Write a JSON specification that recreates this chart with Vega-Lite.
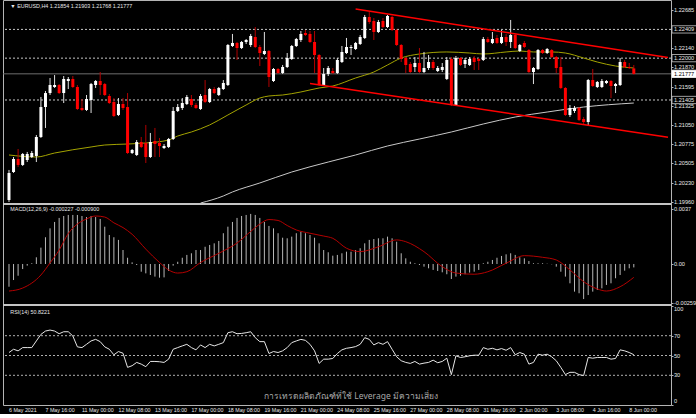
{
"$schema":"https://vega.github.io/schema/vega-lite/v6.json",
"background":"#000000",
"padding":{"left":2,"top":0,"right":0,"bottom":0},
"width":668,"height":405,
"config":{"view":{"stroke":"#b4b4b4","strokeWidth":1},"axis":{"tickColor":"#b4b4b4"}},
"datasets":{
"candles":[
{"i":0,"o":1.19983,"h":1.2041,"l":1.19955,"c":1.20367},
{"i":1,"o":1.20381,"h":1.20594,"l":1.20367,"c":1.20566},
{"i":2,"o":1.20566,"h":1.20708,"l":1.20452,"c":1.20481},
{"i":3,"o":1.20481,"h":1.20651,"l":1.20467,"c":1.20637},
{"i":4,"o":1.20552,"h":1.20666,"l":1.20523,"c":1.20637},
{"i":5,"o":1.20594,"h":1.2068,"l":1.2058,"c":1.20651},
{"i":6,"o":1.20609,"h":1.20907,"l":1.20523,"c":1.20879},
{"i":7,"o":1.20879,"h":1.21448,"l":1.20865,"c":1.21305},
{"i":8,"o":1.21305,"h":1.21533,"l":1.21007,"c":1.21504},
{"i":9,"o":1.21504,"h":1.21718,"l":1.21476,"c":1.21618},
{"i":10,"o":1.2159,"h":1.2176,"l":1.21576,"c":1.21618},
{"i":11,"o":1.21618,"h":1.21632,"l":1.2149,"c":1.21504},
{"i":12,"o":1.21504,"h":1.21746,"l":1.21362,"c":1.21704},
{"i":13,"o":1.21675,"h":1.21732,"l":1.21561,"c":1.21704},
{"i":14,"o":1.21704,"h":1.21746,"l":1.21576,"c":1.2159},
{"i":15,"o":1.2159,"h":1.21618,"l":1.21263,"c":1.21277},
{"i":16,"o":1.21291,"h":1.21419,"l":1.21249,"c":1.21263},
{"i":17,"o":1.21263,"h":1.21476,"l":1.21249,"c":1.21419},
{"i":18,"o":1.21405,"h":1.21647,"l":1.2122,"c":1.21632},
{"i":19,"o":1.21618,"h":1.21689,"l":1.21576,"c":1.21675},
{"i":20,"o":1.21675,"h":1.21803,"l":1.21476,"c":1.21618},
{"i":21,"o":1.21632,"h":1.21647,"l":1.21462,"c":1.21476},
{"i":22,"o":1.21462,"h":1.2149,"l":1.21348,"c":1.21362},
{"i":23,"o":1.21377,"h":1.21433,"l":1.21163,"c":1.21177},
{"i":24,"o":1.21192,"h":1.21433,"l":1.21177,"c":1.21348},
{"i":25,"o":1.21348,"h":1.21433,"l":1.21263,"c":1.21291},
{"i":26,"o":1.21305,"h":1.21504,"l":1.20637,"c":1.20651},
{"i":27,"o":1.20651,"h":1.20708,"l":1.20637,"c":1.20694},
{"i":28,"o":1.20623,"h":1.20836,"l":1.20609,"c":1.20808},
{"i":29,"o":1.20808,"h":1.20879,"l":1.20722,"c":1.20737},
{"i":30,"o":1.20794,"h":1.2105,"l":1.20509,"c":1.20594},
{"i":31,"o":1.20594,"h":1.20936,"l":1.2058,"c":1.20808},
{"i":32,"o":1.20822,"h":1.21007,"l":1.20594,"c":1.20779},
{"i":33,"o":1.20794,"h":1.20865,"l":1.20594,"c":1.20751},
{"i":34,"o":1.20722,"h":1.20779,"l":1.20708,"c":1.20751},
{"i":35,"o":1.20737,"h":1.20865,"l":1.20722,"c":1.2085},
{"i":36,"o":1.2085,"h":1.21305,"l":1.20836,"c":1.21249},
{"i":37,"o":1.21249,"h":1.21348,"l":1.21234,"c":1.21305},
{"i":38,"o":1.21291,"h":1.21433,"l":1.21263,"c":1.21362},
{"i":39,"o":1.21348,"h":1.21476,"l":1.21334,"c":1.21448},
{"i":40,"o":1.21419,"h":1.21476,"l":1.21305,"c":1.21334},
{"i":41,"o":1.21334,"h":1.21362,"l":1.21277,"c":1.21291},
{"i":42,"o":1.21277,"h":1.2149,"l":1.21263,"c":1.21462},
{"i":43,"o":1.21476,"h":1.21689,"l":1.21362,"c":1.21377},
{"i":44,"o":1.21377,"h":1.21576,"l":1.21362,"c":1.21561},
{"i":45,"o":1.21561,"h":1.2159,"l":1.2149,"c":1.21504},
{"i":46,"o":1.21476,"h":1.2159,"l":1.21462,"c":1.21576},
{"i":47,"o":1.21561,"h":1.21689,"l":1.21547,"c":1.21647},
{"i":48,"o":1.21618,"h":1.22201,"l":1.21604,"c":1.22187},
{"i":49,"o":1.22173,"h":1.22344,"l":1.22159,"c":1.22216},
{"i":50,"o":1.22216,"h":1.2223,"l":1.21974,"c":1.22144},
{"i":51,"o":1.22144,"h":1.22244,"l":1.2213,"c":1.2223},
{"i":52,"o":1.2223,"h":1.22272,"l":1.22201,"c":1.22258},
{"i":53,"o":1.22187,"h":1.22344,"l":1.22159,"c":1.22315},
{"i":54,"o":1.22301,"h":1.22443,"l":1.22144,"c":1.22159},
{"i":55,"o":1.22159,"h":1.22187,"l":1.21888,"c":1.22073},
{"i":56,"o":1.22059,"h":1.22372,"l":1.22045,"c":1.22102},
{"i":57,"o":1.22102,"h":1.22116,"l":1.2159,"c":1.21732},
{"i":58,"o":1.21675,"h":1.2186,"l":1.21661,"c":1.21846},
{"i":59,"o":1.21846,"h":1.2186,"l":1.21775,"c":1.21789},
{"i":60,"o":1.21789,"h":1.21903,"l":1.21775,"c":1.21874},
{"i":61,"o":1.21874,"h":1.22073,"l":1.2186,"c":1.22002},
{"i":62,"o":1.21988,"h":1.22187,"l":1.21974,"c":1.22173},
{"i":63,"o":1.22173,"h":1.22287,"l":1.22159,"c":1.22272},
{"i":64,"o":1.22258,"h":1.22386,"l":1.2223,"c":1.22344},
{"i":65,"o":1.22358,"h":1.224,"l":1.22315,"c":1.22329},
{"i":66,"o":1.22344,"h":1.22386,"l":1.22216,"c":1.2223},
{"i":67,"o":1.2223,"h":1.22386,"l":1.21789,"c":1.22045},
{"i":68,"o":1.22045,"h":1.22059,"l":1.21604,"c":1.21618},
{"i":69,"o":1.21618,"h":1.2186,"l":1.21604,"c":1.21775},
{"i":70,"o":1.21775,"h":1.21888,"l":1.21746,"c":1.2186},
{"i":71,"o":1.21817,"h":1.2186,"l":1.21775,"c":1.21789},
{"i":72,"o":1.21789,"h":1.22002,"l":1.21775,"c":1.21974},
{"i":73,"o":1.21945,"h":1.22173,"l":1.21931,"c":1.22088},
{"i":74,"o":1.22073,"h":1.22287,"l":1.22059,"c":1.22159},
{"i":75,"o":1.22144,"h":1.22187,"l":1.22045,"c":1.22159},
{"i":76,"o":1.2213,"h":1.2223,"l":1.22116,"c":1.22216},
{"i":77,"o":1.22201,"h":1.22329,"l":1.22187,"c":1.22301},
{"i":78,"o":1.22287,"h":1.22614,"l":1.22272,"c":1.22585},
{"i":79,"o":1.22585,"h":1.22656,"l":1.22486,"c":1.22514},
{"i":80,"o":1.22528,"h":1.22571,"l":1.22258,"c":1.22372},
{"i":81,"o":1.22372,"h":1.22543,"l":1.22358,"c":1.22514},
{"i":82,"o":1.22528,"h":1.22571,"l":1.22429,"c":1.22443},
{"i":83,"o":1.22443,"h":1.22614,"l":1.22429,"c":1.226},
{"i":84,"o":1.22585,"h":1.226,"l":1.22386,"c":1.224},
{"i":85,"o":1.224,"h":1.22415,"l":1.22173,"c":1.22187},
{"i":86,"o":1.22187,"h":1.22201,"l":1.21945,"c":1.21988},
{"i":87,"o":1.22002,"h":1.22016,"l":1.21789,"c":1.21903},
{"i":88,"o":1.21917,"h":1.21945,"l":1.21789,"c":1.21803},
{"i":89,"o":1.21874,"h":1.22016,"l":1.21803,"c":1.21931},
{"i":90,"o":1.21931,"h":1.22144,"l":1.21789,"c":1.21803},
{"i":91,"o":1.21803,"h":1.22088,"l":1.21789,"c":1.2186},
{"i":92,"o":1.2186,"h":1.22045,"l":1.21832,"c":1.21945},
{"i":93,"o":1.21945,"h":1.21974,"l":1.21832,"c":1.2186},
{"i":94,"o":1.21817,"h":1.21888,"l":1.21803,"c":1.2186},
{"i":95,"o":1.21832,"h":1.21931,"l":1.21803,"c":1.21874},
{"i":96,"o":1.21704,"h":1.22016,"l":1.21689,"c":1.21974},
{"i":97,"o":1.21988,"h":1.22016,"l":1.2132,"c":1.21348},
{"i":98,"o":1.21334,"h":1.22031,"l":1.2132,"c":1.22002},
{"i":99,"o":1.22002,"h":1.22016,"l":1.21888,"c":1.21903},
{"i":100,"o":1.21917,"h":1.22002,"l":1.2186,"c":1.21974},
{"i":101,"o":1.21903,"h":1.22016,"l":1.21888,"c":1.21988},
{"i":102,"o":1.22002,"h":1.22031,"l":1.21832,"c":1.21945},
{"i":103,"o":1.21988,"h":1.22002,"l":1.21832,"c":1.2196},
{"i":104,"o":1.21974,"h":1.22301,"l":1.2196,"c":1.22272},
{"i":105,"o":1.22272,"h":1.22301,"l":1.22216,"c":1.2223},
{"i":106,"o":1.22216,"h":1.22372,"l":1.22201,"c":1.22272},
{"i":107,"o":1.22287,"h":1.22329,"l":1.22201,"c":1.22216},
{"i":108,"o":1.22216,"h":1.224,"l":1.22201,"c":1.22301},
{"i":109,"o":1.22301,"h":1.22344,"l":1.22173,"c":1.2223},
{"i":110,"o":1.2223,"h":1.22543,"l":1.22144,"c":1.22329},
{"i":111,"o":1.22329,"h":1.22344,"l":1.2213,"c":1.22144},
{"i":112,"o":1.22102,"h":1.22201,"l":1.22088,"c":1.22187},
{"i":113,"o":1.22216,"h":1.22244,"l":1.22144,"c":1.22159},
{"i":114,"o":1.22116,"h":1.2213,"l":1.21789,"c":1.21803},
{"i":115,"o":1.21803,"h":1.21874,"l":1.21632,"c":1.2186},
{"i":116,"o":1.21846,"h":1.2213,"l":1.21832,"c":1.22116},
{"i":117,"o":1.22116,"h":1.2213,"l":1.22059,"c":1.22073},
{"i":118,"o":1.22073,"h":1.22144,"l":1.22059,"c":1.2213},
{"i":119,"o":1.22116,"h":1.2213,"l":1.22002,"c":1.22016},
{"i":120,"o":1.22016,"h":1.22031,"l":1.21789,"c":1.2186},
{"i":121,"o":1.21874,"h":1.22016,"l":1.21561,"c":1.21576},
{"i":122,"o":1.21576,"h":1.2159,"l":1.21177,"c":1.21192},
{"i":123,"o":1.21192,"h":1.21334,"l":1.21163,"c":1.21291},
{"i":124,"o":1.21249,"h":1.2132,"l":1.2122,"c":1.21291},
{"i":125,"o":1.21291,"h":1.21305,"l":1.21106,"c":1.21121},
{"i":126,"o":1.21135,"h":1.21163,"l":1.2105,"c":1.21092},
{"i":127,"o":1.21092,"h":1.21704,"l":1.21035,"c":1.21689},
{"i":128,"o":1.21689,"h":1.21846,"l":1.2159,"c":1.21604},
{"i":129,"o":1.2159,"h":1.21675,"l":1.21576,"c":1.21661},
{"i":130,"o":1.2159,"h":1.21704,"l":1.21576,"c":1.21675},
{"i":131,"o":1.21647,"h":1.21689,"l":1.21632,"c":1.21675},
{"i":132,"o":1.21675,"h":1.21689,"l":1.21433,"c":1.21604},
{"i":133,"o":1.21604,"h":1.21647,"l":1.21504,"c":1.21632},
{"i":134,"o":1.21618,"h":1.22002,"l":1.21604,"c":1.21945},
{"i":135,"o":1.21945,"h":1.21974,"l":1.2186,"c":1.21874},
{"i":136,"o":1.21874,"h":1.21931,"l":1.21846,"c":1.2186},
{"i":137,"o":1.21854,"h":1.21903,"l":1.21768,"c":1.21777}
],
"ma50":[
{"i":0,"v":1.20623},{"i":6,"v":1.20594},{"i":10,"v":1.20651},{"i":18,"v":1.20737},{"i":21,"v":1.20765},{"i":26,"v":1.20779},{"i":30,"v":1.20794},{"i":35,"v":1.20836},{"i":37,"v":1.20893},{"i":40,"v":1.2095},{"i":44,"v":1.2105},{"i":48,"v":1.21192},{"i":52,"v":1.21334},{"i":55,"v":1.21433},{"i":57,"v":1.21462},{"i":60,"v":1.21476},{"i":64,"v":1.21519},{"i":68,"v":1.21576},{"i":71,"v":1.21604},{"i":76,"v":1.21718},{"i":80,"v":1.21803},{"i":83,"v":1.21903},{"i":86,"v":1.22002},{"i":90,"v":1.22059},{"i":96,"v":1.22088},{"i":101,"v":1.22073},{"i":104,"v":1.22059},{"i":109,"v":1.22088},{"i":112,"v":1.22102},{"i":115,"v":1.22088},{"i":119,"v":1.22088},{"i":122,"v":1.22073},{"i":126,"v":1.22002},{"i":129,"v":1.21945},{"i":133,"v":1.21888},{"i":137,"v":1.2186}
],
"ma200":[
{"i":42,"v":1.1994},{"i":47,"v":1.2004},{"i":49,"v":1.20097},{"i":55,"v":1.20225},{"i":62,"v":1.20381},{"i":70,"v":1.20523},{"i":76,"v":1.20623},{"i":83,"v":1.20751},{"i":90,"v":1.2085},{"i":97,"v":1.2095},{"i":104,"v":1.21064},{"i":111,"v":1.21163},{"i":118,"v":1.21234},{"i":126,"v":1.21305},{"i":137,"v":1.21362}
],
"channel":[
{"g":"u","i":76,"p":1.22699},{"g":"u","i":144.5,"p":1.2201},
{"g":"l","i":66,"p":1.2164},{"g":"l","i":144.5,"p":1.20875}
],
"levels":[
{"p":1.22409,"k":"dash"},{"p":1.22,"k":"dash"},{"p":1.21405,"k":"dash"},{"p":1.21777,"k":"bid"}
],
"seps":[{"panel":"main","v":1.19926},{"panel":"macd","v":-0.00276}],
"plab":[{"p":1.22685},{"p":1.2214},{"p":1.2187},{"p":1.21595},{"p":1.21325},{"p":1.2105},{"p":1.20775},{"p":1.20505},{"p":1.2023},{"p":1.1996}],
"mlab":[{"v":0.0037,"t":"0.0037"},{"v":0,"t":"0.00"},{"v":-0.002596,"t":"-0.002596"}],
"rlab":[{"r":100,"t":"100","b":"top"},{"r":70,"t":"70","b":"middle"},{"r":50,"t":"50","b":"middle"},{"r":30,"t":"30","b":"middle"},{"r":0,"t":"0","b":"bottom"}],
"xlab":[{"i":0,"t":"6 May 2021"},{"i":8,"t":"7 May 16:00"},{"i":16,"t":"11 May 00:00"},{"i":24,"t":"12 May 08:00"},{"i":32,"t":"13 May 16:00"},{"i":40,"t":"17 May 00:00"},{"i":48,"t":"18 May 08:00"},{"i":56,"t":"19 May 16:00"},{"i":64,"t":"21 May 00:00"},{"i":72,"t":"24 May 08:00"},{"i":80,"t":"25 May 16:00"},{"i":88,"t":"27 May 00:00"},{"i":96,"t":"28 May 08:00"},{"i":104,"t":"31 May 16:00"},{"i":112,"t":"2 Jun 00:00"},{"i":120,"t":"3 Jun 08:00"},{"i":128,"t":"4 Jun 16:00"},{"i":136,"t":"8 Jun 00:00"}],
"macd":[
{"i":0,"h":-0.00153},{"i":1,"h":-0.00108},{"i":2,"h":-0.00079},{"i":3,"h":-0.00034},{"i":4,"h":-0.00011},{"i":5,"h":0.00005},{"i":6,"h":0.00045},{"i":7,"h":0.0011},{"i":8,"h":0.0018},{"i":9,"h":0.0024},{"i":10,"h":0.00283},{"i":11,"h":0.0031},{"i":12,"h":0.00323},{"i":13,"h":0.0033},{"i":14,"h":0.0033},{"i":15,"h":0.0033},{"i":16,"h":0.00323},{"i":17,"h":0.00316},{"i":18,"h":0.00323},{"i":19,"h":0.00316},{"i":20,"h":0.00303},{"i":21,"h":0.00251},{"i":22,"h":0.00195},{"i":23,"h":0.0018},{"i":24,"h":0.00162},{"i":25,"h":0.00094},{"i":26,"h":0.00042},{"i":27,"h":0.00011},{"i":28,"h":-0.00007},{"i":29,"h":-0.00052},{"i":30,"h":-0.00063},{"i":31,"h":-0.00074},{"i":32,"h":-0.00085},{"i":33,"h":-0.00092},{"i":34,"h":-0.0009},{"i":35,"h":-0.00047},{"i":36,"h":-0.00011},{"i":37,"h":0.00015},{"i":38,"h":0.00042},{"i":39,"h":0.00061},{"i":40,"h":0.00072},{"i":41,"h":0.00094},{"i":42,"h":0.00094},{"i":43,"h":0.00116},{"i":44,"h":0.00128},{"i":45,"h":0.00139},{"i":46,"h":0.00155},{"i":47,"h":0.00207},{"i":48,"h":0.00251},{"i":49,"h":0.00283},{"i":50,"h":0.0031},{"i":51,"h":0.00323},{"i":52,"h":0.0033},{"i":53,"h":0.00337},{"i":54,"h":0.0033},{"i":55,"h":0.0031},{"i":56,"h":0.00283},{"i":57,"h":0.00256},{"i":58,"h":0.0024},{"i":59,"h":0.00207},{"i":60,"h":0.00177},{"i":61,"h":0.00173},{"i":62,"h":0.00184},{"i":63,"h":0.00207},{"i":64,"h":0.00217},{"i":65,"h":0.00207},{"i":66,"h":0.00195},{"i":67,"h":0.00177},{"i":68,"h":0.00139},{"i":69,"h":0.00094},{"i":70,"h":0.00079},{"i":71,"h":0.00056},{"i":72,"h":0.00061},{"i":73,"h":0.00072},{"i":74,"h":0.00083},{"i":75,"h":0.00083},{"i":76,"h":0.00094},{"i":77,"h":0.00106},{"i":78,"h":0.00139},{"i":79,"h":0.00162},{"i":80,"h":0.00168},{"i":81,"h":0.00173},{"i":82,"h":0.00173},{"i":83,"h":0.00184},{"i":84,"h":0.00173},{"i":85,"h":0.0015},{"i":86,"h":0.00072},{"i":87,"h":0.00038},{"i":88,"h":0.00015},{"i":89,"h":0.00005},{"i":90,"h":-0.00007},{"i":91,"h":-0.00018},{"i":92,"h":-0.00029},{"i":93,"h":-0.0004},{"i":94,"h":-0.00047},{"i":95,"h":-0.00056},{"i":96,"h":-0.00069},{"i":97,"h":-0.00101},{"i":98,"h":-0.00085},{"i":99,"h":-0.00079},{"i":100,"h":-0.00069},{"i":101,"h":-0.00058},{"i":102,"h":-0.00052},{"i":103,"h":-0.0004},{"i":104,"h":0.00005},{"i":105,"h":0.00015},{"i":106,"h":0.00027},{"i":107,"h":0.00042},{"i":108,"h":0.00054},{"i":109,"h":0.00065},{"i":110,"h":0.00072},{"i":111,"h":0.00061},{"i":112,"h":0.00045},{"i":113,"h":0.00038},{"i":114,"h":0.0002},{"i":115,"h":0.00005},{"i":116,"h":0.00005},{"i":117,"h":0.00005},{"i":118,"h":0.00002},{"i":119,"h":-0.00002},{"i":120,"h":-0.00018},{"i":121,"h":-0.00052},{"i":122,"h":-0.00085},{"i":123,"h":-0.0013},{"i":124,"h":-0.00186},{"i":125,"h":-0.00197},{"i":126,"h":-0.00236},{"i":127,"h":-0.00209},{"i":128,"h":-0.00186},{"i":129,"h":-0.00175},{"i":130,"h":-0.00164},{"i":131,"h":-0.00141},{"i":132,"h":-0.0013},{"i":133,"h":-0.00096},{"i":134,"h":-0.00074},{"i":135,"h":-0.00045},{"i":136,"h":-0.00029},{"i":137,"h":-0.00023}
],
"signal":[
{"i":0,"s":-0.00182},{"i":3,"s":-0.00162},{"i":7,"s":-0.00074},{"i":9,"s":0.00007},{"i":11,"s":0.00094},{"i":13,"s":0.00205},{"i":15,"s":0.00269},{"i":17,"s":0.00303},{"i":19,"s":0.00323},{"i":21,"s":0.00316},{"i":23,"s":0.00277},{"i":25,"s":0.00245},{"i":27,"s":0.002},{"i":30,"s":0.001},{"i":33,"s":0.0001},{"i":35,"s":-0.0004},{"i":37,"s":-0.00061},{"i":39,"s":-0.00052},{"i":42,"s":0.0001},{"i":46,"s":0.00072},{"i":50,"s":0.00141},{"i":53,"s":0.00219},{"i":55,"s":0.00269},{"i":57,"s":0.00299},{"i":59,"s":0.00293},{"i":61,"s":0.00259},{"i":63,"s":0.00229},{"i":66,"s":0.00207},{"i":69,"s":0.00188},{"i":71,"s":0.00173},{"i":74,"s":0.00106},{"i":77,"s":0.00083},{"i":81,"s":0.00116},{"i":85,"s":0.00162},{"i":87,"s":0.0015},{"i":91,"s":0.00083},{"i":95,"s":-0.00018},{"i":98,"s":-0.00061},{"i":102,"s":-0.00069},{"i":105,"s":-0.00052},{"i":109,"s":0.00005},{"i":113,"s":0.00056},{"i":117,"s":0.00045},{"i":120,"s":0.00027},{"i":123,"s":-0.0004},{"i":126,"s":-0.00119},{"i":129,"s":-0.00168},{"i":131,"s":-0.00182},{"i":134,"s":-0.00153},{"i":137,"s":-0.0009}
],
"rsi":[
{"i":0,"r":53},{"i":1,"r":56.3},{"i":2,"r":54.7},{"i":3,"r":58},{"i":4,"r":58},{"i":5,"r":58},{"i":6,"r":64.7},{"i":7,"r":71.3},{"i":8,"r":74.7},{"i":9,"r":75.7},{"i":10,"r":74.7},{"i":11,"r":72},{"i":12,"r":74},{"i":13,"r":74},{"i":14,"r":69.7},{"i":15,"r":58.7},{"i":16,"r":58},{"i":17,"r":61.3},{"i":18,"r":64.7},{"i":19,"r":66.3},{"i":20,"r":64},{"i":21,"r":58.7},{"i":22,"r":56.3},{"i":23,"r":50.7},{"i":24,"r":54},{"i":25,"r":52.3},{"i":26,"r":38},{"i":27,"r":39.7},{"i":28,"r":43},{"i":29,"r":41.3},{"i":30,"r":38.7},{"i":31,"r":44},{"i":32,"r":44},{"i":33,"r":43.7},{"i":34,"r":43},{"i":35,"r":46.3},{"i":36,"r":56.3},{"i":37,"r":58},{"i":38,"r":59.7},{"i":39,"r":61.3},{"i":40,"r":58},{"i":41,"r":55.7},{"i":42,"r":60.7},{"i":43,"r":58},{"i":44,"r":61.3},{"i":45,"r":59.7},{"i":46,"r":61.3},{"i":47,"r":63},{"i":48,"r":73},{"i":49,"r":74},{"i":50,"r":72},{"i":51,"r":72.3},{"i":52,"r":73},{"i":53,"r":74},{"i":54,"r":68},{"i":55,"r":64},{"i":56,"r":64},{"i":57,"r":52},{"i":58,"r":54},{"i":59,"r":53},{"i":60,"r":54.7},{"i":61,"r":58},{"i":62,"r":63},{"i":63,"r":64.7},{"i":64,"r":66.3},{"i":65,"r":65.3},{"i":66,"r":61.3},{"i":67,"r":54.7},{"i":68,"r":42},{"i":69,"r":46.3},{"i":70,"r":46.3},{"i":71,"r":47},{"i":72,"r":52},{"i":73,"r":55.7},{"i":74,"r":57.3},{"i":75,"r":58},{"i":76,"r":59},{"i":77,"r":61.3},{"i":78,"r":68},{"i":79,"r":66.3},{"i":80,"r":60.7},{"i":81,"r":63},{"i":82,"r":61.3},{"i":83,"r":64},{"i":84,"r":56.3},{"i":85,"r":48.7},{"i":86,"r":44.7},{"i":87,"r":43},{"i":88,"r":42},{"i":89,"r":44},{"i":90,"r":41.3},{"i":91,"r":42.3},{"i":92,"r":43},{"i":93,"r":45.3},{"i":94,"r":42.7},{"i":95,"r":44},{"i":96,"r":47.3},{"i":97,"r":30.7},{"i":98,"r":49.7},{"i":99,"r":48},{"i":100,"r":48.7},{"i":101,"r":49.7},{"i":102,"r":50.3},{"i":103,"r":50.3},{"i":104,"r":58},{"i":105,"r":56.3},{"i":106,"r":57.3},{"i":107,"r":55.7},{"i":108,"r":57},{"i":109,"r":55.3},{"i":110,"r":58},{"i":111,"r":50.7},{"i":112,"r":53},{"i":113,"r":51.3},{"i":114,"r":41.3},{"i":115,"r":43},{"i":116,"r":51.3},{"i":117,"r":50.3},{"i":118,"r":51.3},{"i":119,"r":48.7},{"i":120,"r":44.7},{"i":121,"r":38},{"i":122,"r":30.7},{"i":123,"r":33},{"i":124,"r":33},{"i":125,"r":30.7},{"i":126,"r":29.7},{"i":127,"r":48},{"i":128,"r":47.3},{"i":129,"r":48},{"i":130,"r":48},{"i":131,"r":48},{"i":132,"r":46.3},{"i":133,"r":47},{"i":134,"r":55.7},{"i":135,"r":54.7},{"i":136,"r":53},{"i":137,"r":50.8}
],
"rsilev":[{"r":70},{"r":50},{"r":30}],
"notes":[
{"panel":"main","i":0.3,"v":1.22742,"t":"▼ EURUSD,H4  1.21854 1.21903 1.21768 1.21777"},
{"panel":"macd","i":0.3,"v":0.0037,"t":"MACD(12,26,9) -0.000227 -0.000900"},
{"panel":"rsi","i":0.3,"v":94,"t":"RSI(14) 50.8221"}
],
"mark":[{"i":75,"v":9,"t":"การเทรดผลิตภัณฑ์ที่ใช้ Leverage มีความเสี่ยง"}]
},
"resolve":{"scale":{"y":"independent"},"axis":{"y":"independent"}},
"layer":[
{"layer":[
{"data":{"name":"levels"},"mark":{"type":"rule","strokeWidth":1},
"encoding":{
"y":{"field":"p","type":"quantitative","scale":{"domain":[1.19926,1.22827],"range":[204,0],"nice":false,"zero":false},
"axis":{"orient":"right","title":null,"grid":false,"domain":false,"labels":false,"ticks":true,"tickSize":2,"values":[1.22685,1.2214,1.2187,1.21595,1.21325,1.2105,1.20775,1.20505,1.2023,1.1996]}},
"color":{"condition":{"test":"datum.k=='bid'","value":"#6e6e6e"},"value":"#c8c8c8"},
"strokeDash":{"condition":{"test":"datum.k=='bid'","value":[1,0]},"value":[2,2]}}},
{"data":{"name":"ma200"},"mark":{"type":"line","color":"#c8c8c8","strokeWidth":1,"interpolate":"monotone","clip":true},
"encoding":{"x":{"field":"i","type":"quantitative","scale":{"domain":[-0.216,144.06],"nice":false,"zero":false},"axis":null},
"y":{"field":"v","type":"quantitative"}}},
{"data":{"name":"ma50"},"mark":{"type":"line","color":"#a3a300","strokeWidth":1,"interpolate":"monotone","clip":true},
"encoding":{"x":{"field":"i","type":"quantitative","axis":null},"y":{"field":"v","type":"quantitative"}}},
{"data":{"name":"candles"},"mark":{"type":"rule","strokeWidth":1,"clip":true},
"encoding":{"x":{"field":"i","type":"quantitative","axis":null},"y":{"field":"l","type":"quantitative"},"y2":{"field":"h"},
"color":{"condition":{"test":"datum.c>=datum.o","value":"#e0e0e0"},"value":"#b00000"}}},
{"data":{"name":"candles"},"mark":{"type":"bar","size":3,"clip":true},
"encoding":{"x":{"field":"i","type":"quantitative","axis":null},"y":{"field":"o","type":"quantitative"},"y2":{"field":"c"},
"color":{"condition":{"test":"datum.c>=datum.o","value":"#ffffff"},"value":"#ff0000"}}},
{"data":{"name":"channel"},"mark":{"type":"line","color":"#ff0000","strokeWidth":1.5,"clip":true},
"encoding":{"x":{"field":"i","type":"quantitative","axis":null},"y":{"field":"p","type":"quantitative"},"detail":{"field":"g"}}},
{"data":{"name":"seps"},"transform":[{"filter":"datum.panel=='main'"}],"mark":{"type":"rule","color":"#c4c4c4","strokeWidth":2},
"encoding":{"y":{"field":"v","type":"quantitative"}}},
{"data":{"name":"plab"},"mark":{"type":"text","align":"left","baseline":"middle","dx":3,"font":"Liberation Sans","fontSize":5.6,"color":"#e8e8e8"},
"encoding":{"x":{"value":"width"},"y":{"field":"p","type":"quantitative"},"text":{"field":"p","type":"quantitative","format":".5f"}}},
{"data":{"name":"levels"},"mark":{"type":"point","shape":"M0,-0.28H2V0.28H0Z","size":676,"filled":true,"opacity":1,"strokeWidth":0.8},
"encoding":{"x":{"value":{"expr":"width+1"}},"y":{"field":"p","type":"quantitative"},
"fill":{"condition":{"test":"datum.k=='bid'","value":"#ffffff"},"value":"#000000"},
"stroke":{"condition":{"test":"datum.k=='bid'","value":"#ffffff"},"value":"#c8c8c8"}}},
{"data":{"name":"levels"},"mark":{"type":"text","align":"left","baseline":"middle","dx":3,"font":"Liberation Sans","fontSize":5.6},
"encoding":{"x":{"value":"width"},"y":{"field":"p","type":"quantitative"},
"text":{"field":"p","type":"quantitative","format":".5f"},
"color":{"condition":{"test":"datum.k=='bid'","value":"#000000"},"value":"#e8e8e8"}}},
{"data":{"name":"notes"},"transform":[{"filter":"datum.panel=='main'"}],"mark":{"type":"text","align":"left","baseline":"middle","font":"Liberation Sans","fontSize":5.4,"color":"#e8e8e8"},
"encoding":{"x":{"field":"i","type":"quantitative","axis":null},"y":{"field":"v","type":"quantitative"},"text":{"field":"t"}}}
]},
{"layer":[
{"data":{"name":"macd"},"mark":{"type":"rule","strokeWidth":1,"color":"#b8b8b8"},
"encoding":{"x":{"field":"i","type":"quantitative","axis":null},
"y":{"field":"h","type":"quantitative","scale":{"domain":[-0.00276,0.00397],"range":[305,205],"nice":false,"zero":false},
"axis":{"orient":"right","title":null,"grid":false,"domain":false,"labels":false,"ticks":true,"tickSize":2,"values":[0.0037,0,-0.002596]}},
"y2":{"datum":0}}},
{"data":{"name":"signal"},"mark":{"type":"line","color":"#b40000","strokeWidth":1,"interpolate":"monotone"},
"encoding":{"x":{"field":"i","type":"quantitative","axis":null},"y":{"field":"s","type":"quantitative"}}},
{"data":{"name":"seps"},"transform":[{"filter":"datum.panel=='macd'"}],"mark":{"type":"rule","color":"#c4c4c4","strokeWidth":2},
"encoding":{"y":{"field":"v","type":"quantitative"}}},
{"data":{"name":"mlab"},"mark":{"type":"text","align":"left","baseline":"middle","dx":3,"font":"Liberation Sans","fontSize":5.6,"color":"#e8e8e8"},
"encoding":{"x":{"value":"width"},"y":{"field":"v","type":"quantitative"},"text":{"field":"t"}}},
{"data":{"name":"notes"},"transform":[{"filter":"datum.panel=='macd'"}],"mark":{"type":"text","align":"left","baseline":"middle","font":"Liberation Sans","fontSize":5.4,"color":"#e8e8e8"},
"encoding":{"x":{"field":"i","type":"quantitative","axis":null},"y":{"field":"v","type":"quantitative"},"text":{"field":"t"}}}
]},
{"layer":[
{"data":{"name":"rsilev"},"mark":{"type":"rule","strokeWidth":1,"color":"#b0b0b0","strokeDash":[2,2]},
"encoding":{"y":{"field":"r","type":"quantitative","scale":{"domain":[0,100],"range":[405,306],"nice":false},
"axis":{"orient":"right","title":null,"grid":false,"domain":false,"labels":false,"ticks":true,"tickSize":2,"values":[0,30,50,70,100]}}}},
{"data":{"name":"rsi"},"mark":{"type":"line","color":"#e6e6e6","strokeWidth":1},
"encoding":{"x":{"field":"i","type":"quantitative",
"axis":{"orient":"bottom","title":null,"grid":false,"domain":false,"labels":false,"ticks":true,"tickSize":2,"values":[0,8,16,24,32,40,48,56,64,72,80,88,96,104,112,120,128,136]}},
"y":{"field":"r","type":"quantitative"}}},
{"data":{"name":"rlab"},"transform":[{"filter":"datum.b=='top'"}],"mark":{"type":"text","align":"left","baseline":"top","dx":3,"dy":1,"font":"Liberation Sans","fontSize":5.6,"color":"#e8e8e8"},
"encoding":{"x":{"value":"width"},"y":{"field":"r","type":"quantitative"},"text":{"field":"t"}}},
{"data":{"name":"rlab"},"transform":[{"filter":"datum.b=='middle'"}],"mark":{"type":"text","align":"left","baseline":"middle","dx":3,"font":"Liberation Sans","fontSize":5.6,"color":"#e8e8e8"},
"encoding":{"x":{"value":"width"},"y":{"field":"r","type":"quantitative"},"text":{"field":"t"}}},
{"data":{"name":"rlab"},"transform":[{"filter":"datum.b=='bottom'"}],"mark":{"type":"text","align":"left","baseline":"bottom","dx":3,"dy":-1,"font":"Liberation Sans","fontSize":5.6,"color":"#e8e8e8"},
"encoding":{"x":{"value":"width"},"y":{"field":"r","type":"quantitative"},"text":{"field":"t"}}},
{"data":{"name":"xlab"},"mark":{"type":"text","align":"left","baseline":"top","dy":3,"font":"Liberation Sans Narrow, Liberation Sans","fontSize":5.3,"color":"#e8e8e8"},
"encoding":{"x":{"field":"i","type":"quantitative","axis":null},"y":{"value":"height"},"text":{"field":"t"}}},
{"data":{"name":"notes"},"transform":[{"filter":"datum.panel=='rsi'"}],"mark":{"type":"text","align":"left","baseline":"middle","font":"Liberation Sans","fontSize":5.4,"color":"#e8e8e8"},
"encoding":{"x":{"field":"i","type":"quantitative","axis":null},"y":{"field":"v","type":"quantitative"},"text":{"field":"t"}}},
{"data":{"name":"mark"},"mark":{"type":"text","align":"center","baseline":"middle","font":"Noto Sans","fontSize":8.5,"color":"#a8a8a8"},
"encoding":{"x":{"field":"i","type":"quantitative","axis":null},"y":{"field":"v","type":"quantitative"},"text":{"field":"t"}}}
]}
]
}
